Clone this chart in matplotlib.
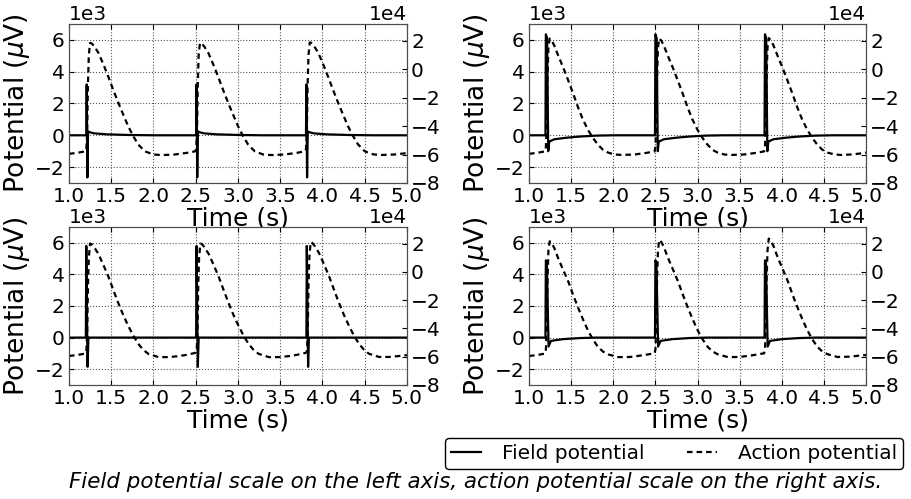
import matplotlib
matplotlib.use('Agg')
import numpy as np
from matplotlib import pyplot as plt

# field potential in uV, action potential in mV, time in s
tl_fp_t = [1.00, 1.205, 1.21, 1.218, 1.226, 1.24, 1.30, 1.45, 1.70, 2.00,
           2.505, 2.51, 2.518, 2.526, 2.54, 2.60, 2.75, 3.00, 3.30,
           3.805, 3.81, 3.818, 3.826, 3.84, 3.90, 4.05, 4.30, 4.60, 5.00]
tl_fp = [0, 0, 3200, -2650, 250, 200, 120, 60, 20, 0,
         0, 3200, -2650, 250, 200, 120, 60, 20, 0,
         0, 3200, -2650, 250, 200, 120, 60, 20, 0, 0]
tl_ap_t = [1.00, 1.10, 1.19, 1.205, 1.215, 1.225, 1.235, 1.25, 1.27, 1.30, 1.35, 1.41, 1.47,
           1.53, 1.59, 1.65, 1.70, 1.76, 1.82, 1.90, 2.00, 2.10, 2.25, 2.40, 2.49,
           2.505, 2.515, 2.525, 2.535, 2.55, 2.57, 2.60, 2.65, 2.71, 2.77, 2.83, 2.89,
           2.95, 3.00, 3.06, 3.12, 3.20, 3.30, 3.40, 3.55, 3.70, 3.79,
           3.805, 3.815, 3.825, 3.835, 3.85, 3.87, 3.90, 3.95, 4.01, 4.07, 4.13, 4.19,
           4.25, 4.30, 4.36, 4.42, 4.50, 4.60, 4.70, 4.85, 5.00]
tl_ap = [-59.5, -58.8, -57.8, -56.5, -45, -10, 10, 18.4, 18.0, 16.0, 11.3, 3.0, -6.0,
         -15.5, -24.5, -33, -40, -47, -53, -57.8, -60.0, -60.4, -60.0, -58.8, -57.8,
         -56.5, -45, -10, 10, 18.4, 18.0, 16.0, 11.3, 3.0, -6.0, -15.5, -24.5,
         -33, -40, -47, -53, -57.8, -60.0, -60.4, -60.0, -58.8, -57.8,
         -56.5, -45, -10, 10, 18.8, 18.3, 16.3, 11.5, 3.2, -5.8, -15.3, -24.3,
         -32.8, -39.8, -46.8, -52.8, -57.7, -59.9, -60.3, -60.0, -59.0]

tr_fp_t = [1.00, 1.195, 1.20, 1.215, 1.228, 1.24, 1.30, 1.45, 1.60, 1.80, 2.00,
           2.495, 2.50, 2.515, 2.528, 2.54, 2.60, 2.75, 2.90, 3.10, 3.30,
           3.795, 3.80, 3.815, 3.828, 3.84, 3.90, 4.05, 4.20, 4.40, 4.60, 5.00]
tr_fp = [0, 0, 6350, 6100, -1000, -400, -250, -150, -80, -20, 0,
         0, 6350, 6100, -1000, -400, -250, -150, -80, -20, 0,
         0, 6350, 6100, -1000, -400, -250, -150, -80, -20, 0, 0]
tr_ap_t = [1.00, 1.10, 1.19, 1.20, 1.21, 1.22, 1.23, 1.245, 1.27, 1.30, 1.35, 1.41, 1.47,
           1.53, 1.585, 1.64, 1.70, 1.76, 1.82, 1.88, 1.94, 2.02, 2.10, 2.25, 2.40, 2.49,
           2.50, 2.51, 2.52, 2.53, 2.545, 2.57, 2.60, 2.65, 2.71, 2.77, 2.83, 2.885,
           2.94, 3.00, 3.06, 3.12, 3.18, 3.24, 3.32, 3.40, 3.55, 3.70, 3.79,
           3.80, 3.81, 3.82, 3.83, 3.845, 3.87, 3.90, 3.95, 4.01, 4.07, 4.13, 4.185,
           4.24, 4.30, 4.36, 4.42, 4.48, 4.54, 4.62, 4.70, 4.85, 5.00]
tr_ap = [-59.5, -58.8, -57.8, -55, -40, -5, 15, 21.5, 20.0, 16.5, 9.0, 0.5, -8.7,
         -18.2, -27.4, -35.5, -42.7, -48.5, -53.2, -56.8, -58.7, -60.0, -60.3, -60.0, -58.8, -57.8,
         -55, -40, -5, 15, 21.5, 20.0, 16.5, 9.0, 0.5, -8.7, -18.2, -27.4,
         -35.5, -42.7, -48.5, -53.2, -56.8, -58.7, -60.0, -60.3, -60.0, -58.8, -57.8,
         -55, -40, -5, 15, 21.8, 20.3, 16.8, 9.3, 0.8, -8.4, -17.9, -27.1,
         -35.2, -42.4, -48.2, -53.0, -56.6, -58.6, -59.9, -60.3, -59.9, -58.7]

bl_fp_t = [1.00, 1.20, 1.205, 1.22, 1.23, 2.505, 2.51, 2.525, 2.535,
           3.81, 3.815, 3.83, 3.84, 5.00]
bl_fp = [0, 0, 5800, -1850, 0, 0, 5800, -1850, 0,
         0, 5800, -1850, 0, 0]
bl_ap_t = [1.00, 1.10, 1.19, 1.205, 1.215, 1.225, 1.235, 1.25, 1.27, 1.30, 1.35, 1.41, 1.47,
           1.525, 1.58, 1.64, 1.70, 1.76, 1.82, 1.88, 1.94, 2.06, 2.18, 2.30, 2.40, 2.495,
           2.51, 2.52, 2.53, 2.54, 2.555, 2.575, 2.605, 2.655, 2.715, 2.775, 2.83, 2.885,
           2.945, 3.005, 3.065, 3.125, 3.185, 3.245, 3.365, 3.485, 3.605, 3.705, 3.80,
           3.815, 3.825, 3.835, 3.845, 3.86, 3.88, 3.91, 3.96, 4.02, 4.08, 4.135, 4.19,
           4.25, 4.31, 4.37, 4.43, 4.49, 4.55, 4.67, 4.79, 4.91, 5.00]
bl_ap = [-59.5, -58.8, -57.8, -56.5, -45, -10, 10, 20.0, 19.5, 17.3, 12.5, 4.5, -3.9,
         -12.8, -21.5, -30.2, -38, -45, -50.9, -55.2, -58, -60.3, -60.3, -59.6, -58.6, -57.3,
         -56.5, -45, -10, 10, 20.0, 19.5, 17.3, 12.5, 4.5, -3.9, -12.8, -21.5,
         -30.2, -38, -45, -50.9, -55.2, -58, -60.3, -60.3, -59.6, -58.6, -57.3,
         -56.5, -45, -10, 10, 21.0, 20.4, 18.1, 13.2, 5.1, -3.4, -12.4, -21.1,
         -29.9, -37.7, -44.8, -50.7, -55.0, -57.9, -60.2, -60.2, -59.5, -58.9]

br_fp_t = [1.00, 1.195, 1.20, 1.212, 1.232, 1.26, 1.40, 1.60, 1.80,
           2.495, 2.50, 2.512, 2.532, 2.56, 2.70, 2.90, 3.10,
           3.795, 3.80, 3.812, 3.832, 3.86, 4.00, 4.20, 4.40, 5.00]
br_fp = [0, 0, 4890, 4700, -570, -210, -100, -30, 0,
         0, 4890, 4700, -570, -210, -100, -30, 0,
         0, 4890, 4700, -570, -210, -100, -30, 0, 0]
br_ap_t = [1.00, 1.10, 1.19, 1.20, 1.21, 1.22, 1.23, 1.245, 1.27, 1.30, 1.35, 1.41, 1.47,
           1.525, 1.58, 1.64, 1.70, 1.76, 1.82, 1.88, 1.94, 2.06, 2.20, 2.35, 2.49,
           2.50, 2.51, 2.52, 2.53, 2.545, 2.57, 2.60, 2.65, 2.71, 2.77, 2.825, 2.88,
           2.94, 3.00, 3.06, 3.12, 3.18, 3.24, 3.36, 3.50, 3.65, 3.79,
           3.80, 3.81, 3.82, 3.83, 3.845, 3.87, 3.90, 3.95, 4.01, 4.07, 4.125, 4.18,
           4.24, 4.30, 4.36, 4.42, 4.48, 4.54, 4.66, 4.80, 5.00]
br_ap = [-59.5, -58.8, -57.8, -55, -40, -5, 15, 21.6, 20.2, 16.8, 9.0, 0.8, -7.5,
         -16.5, -25, -33.6, -41.5, -48, -53.2, -56.5, -58.4, -60.3, -60.2, -59.0, -57.6,
         -55, -40, -5, 15, 22.6, 21.1, 17.6, 9.7, 1.4, -7.0, -16.1, -24.6,
         -33.3, -41.2, -47.8, -53.0, -56.4, -58.3, -60.3, -60.2, -59.0, -57.6,
         -55, -40, -5, 15, 23.5, 22.0, 18.4, 10.4, 2.0, -6.5, -15.7, -24.3,
         -33.0, -41.0, -47.6, -52.9, -56.3, -58.2, -60.2, -60.0, -58.8]

panels = [(tl_fp_t, tl_fp, tl_ap_t, tl_ap),
          (tr_fp_t, tr_fp, tr_ap_t, tr_ap),
          (bl_fp_t, bl_fp, bl_ap_t, bl_ap),
          (br_fp_t, br_fp, br_ap_t, br_ap)]

x_ticks = [1.0, 1.5, 2.0, 2.5, 3.0, 3.5, 4.0, 4.5, 5.0]
fp_ticks = [-2000, 0, 2000, 4000, 6000]
ap_ticks = [-80000, -60000, -40000, -20000, 0, 20000]
UV_PER_MV = 1000.0

plt.rcParams['font.family'] = 'DejaVu Sans'
plt.rcParams['xtick.direction'] = 'in'
plt.rcParams['ytick.direction'] = 'in'
plt.rcParams['xtick.top'] = True
plt.rcParams['xtick.labelsize'] = 14.5
plt.rcParams['ytick.labelsize'] = 14.5
plt.rcParams['axes.labelsize'] = 18
plt.rcParams['axes.edgecolor'] = '0.3'

fig = plt.figure(figsize=(9.11, 4.99), dpi=100)
fig.patch.set_facecolor('white')

positions = [[0.0757, 0.6333, 0.371, 0.3186],
             [0.5807, 0.6333, 0.370, 0.3186],
             [0.0757, 0.2285, 0.371, 0.3166],
             [0.5807, 0.2285, 0.370, 0.3166]]

for pos, (ft, fv, at, av) in zip(positions, panels):
    ax = fig.add_axes(pos)
    fp_line, = ax.plot(ft, fv, color='k', lw=1.6, label='Field potential')
    ax.set_xlim(1.0, 5.0)
    ax.set_ylim(-3000, 7000)
    ax.set_xticks(x_ticks)
    ax.set_yticks(fp_ticks)
    ax.ticklabel_format(axis='y', style='sci', scilimits=(0, 0))
    ax.grid(True, linestyle=':', color='0.35', linewidth=0.8)
    ax.set_xlabel('Time (s)', labelpad=0)
    ax.set_ylabel(r'Potential ($\mu$V)', fontsize=19, labelpad=2)
    ax.tick_params(pad=3)

    ax2 = ax.twinx()
    ap_line, = ax2.plot(at, np.array(av) * UV_PER_MV, color='k', lw=1.6,
                        linestyle=(0, (2.5, 1.8)), label='Action potential')
    ax2.set_ylim(-80000, 31700)
    ax2.set_yticks(ap_ticks)
    ax2.ticklabel_format(axis='y', style='sci', scilimits=(0, 0))
    ax2.tick_params(pad=3)
    for sp in ax2.spines.values():
        sp.set_color('0.3')

leg = fig.legend([fp_line, ap_line], ['Field potential', 'Action potential'],
                 loc='center', bbox_to_anchor=(0.740, 0.091), ncol=2, fontsize=14.5,
                 fancybox=True, edgecolor='k', framealpha=1, handlelength=1.5,
                 handletextpad=1.05, columnspacing=2.1, borderpad=0.3)
leg.get_frame().set_linewidth(1.0)

fig.text(0.522, 0.022,
         'Field potential scale on the left axis, action potential scale on the right axis.',
         ha='center', va='baseline', style='italic', fontsize=15.4)

fig.savefig('out.png', dpi=100)
